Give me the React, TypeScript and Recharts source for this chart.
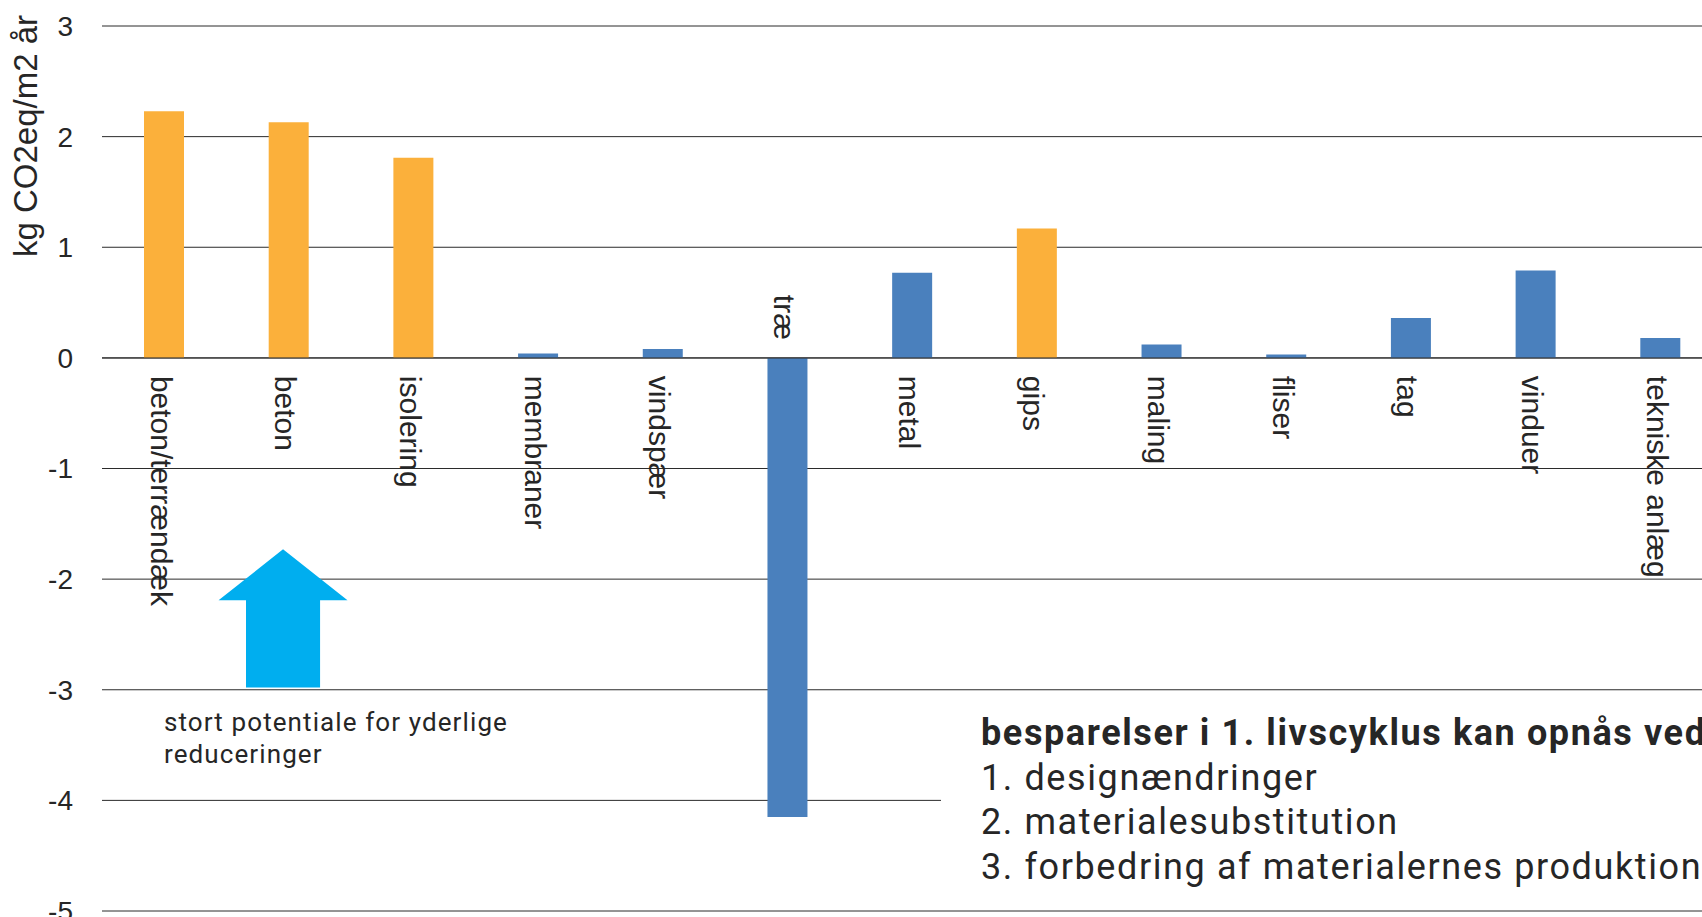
import { BarChart, Bar, XAxis, YAxis, CartesianGrid, ReferenceLine, ReferenceArea, LabelList, Cell } from "recharts";

// materialer og deres bidrag (kg CO2eq/m2 år)
const categories = [
  "beton/terrændæk",
  "beton",
  "isolering",
  "membraner",
  "vindspær",
  "træ",
  "metal",
  "gips",
  "maling",
  "fliser",
  "tag",
  "vinduer",
  "tekniske anlæg",
];
const values = [2.23, 2.13, 1.81, 0.04, 0.08, -4.15, 0.77, 1.17, 0.12, 0.03, 0.36, 0.79, 0.18];
const orangeGroup = ["beton/terrændæk", "beton", "isolering", "gips"];
const yTicks = [-5, -4, -3, -2, -1, 0, 1, 2, 3];
const yTitle = "kg CO2eq/m2 år";

// pil: fra -2.98 op til -1.73, ved "beton"
const arrowCategory = "beton";
const arrowFrom = -2.98;
const arrowTo = -1.73;
const arrowText = ["stort potentiale for yderlige", "reduceringer"];

const boxHeading = "besparelser i 1. livscyklus kan opnås ved";
const boxLines = ["1. designændringer", "2. materialesubstitution", "3. forbedring af materialernes produktion"];

const data = categories.map((name, i) => ({ name, value: values[i] }));

const ORANGE = "#FBB03B";
const BLUE = "#4A80BD";
const TEXT = "#262626";
const SANS = "'Liberation Sans', Arial, sans-serif";

const CategoryLabel = (props: any) => {
  const vb = props.viewBox || props;
  const { x, y, width, height } = vb;
  const name = props.value;
  const v = values[categories.indexOf(name)];
  const cx = x + width / 2 - 3;
  const top = Math.min(y, y + height);
  const bottom = Math.max(y, y + height);
  const neg = v < 0;
  const ty = neg ? top - 18 : bottom + 18;
  return (
    <text
      x={cx}
      y={ty}
      transform={`rotate(90 ${cx} ${ty})`}
      textAnchor={neg ? "end" : "start"}
      dominantBaseline="central"
      fontFamily={SANS}
      fontSize={30}
      fill={TEXT}
    >
      {name}
    </text>
  );
};

const AxisTitle = (props: any) => {
  const vb = props.viewBox || { x: 0, y: 0 };
  const tx = vb.x + 25;
  const ty = vb.y + 110;
  return (
    <text
      x={tx}
      y={ty}
      transform={`rotate(-90 ${tx} ${ty})`}
      textAnchor="middle"
      dominantBaseline="central"
      fontFamily={SANS}
      fontSize={33}
      fill={TEXT}
    >
      {yTitle}
    </text>
  );
};

const ArrowShape = (props: any) => {
  const { x, y, width, height } = props;
  const cx = x + width / 2 - 6;
  const wing = width * 0.517;
  const shaft = width * 0.297;
  const headH = 51;
  const pts = [
    [cx, y],
    [cx + wing, y + headH],
    [cx + shaft, y + headH],
    [cx + shaft, y + height],
    [cx - shaft, y + height],
    [cx - shaft, y + headH],
    [cx - wing, y + headH],
  ]
    .map((p) => p.join(","))
    .join(" ");
  return <polygon points={pts} fill="#00AEEF" />;
};

const App = () => {
  return (
    <div
      style={{
        position: "absolute",
        left: 0,
        top: 0,
        width: 1702,
        height: 917,
        overflow: "hidden",
        background: "#fff",
      }}
    >
      <BarChart width={1723} height={917} data={data} margin={{ top: 26, right: 0, left: 0, bottom: 6 }}>
        <CartesianGrid vertical={false} stroke="#2b2b2b" strokeWidth={1} />
        <XAxis dataKey="name" hide />
        <YAxis
          width={102}
          domain={[-5, 3]}
          ticks={yTicks}
          interval={0}
          axisLine={false}
          tickLine={false}
          tickSize={0}
          tickMargin={29}
          tick={{ fontSize: 28, fill: TEXT, fontFamily: SANS }}
          label={<AxisTitle />}
        />
        <Bar dataKey="value" barSize={40} isAnimationActive={false}>
          {data.map((d) => (
            <Cell key={d.name} fill={orangeGroup.includes(d.name) ? ORANGE : BLUE} />
          ))}
          <LabelList dataKey="name" content={<CategoryLabel />} />
        </Bar>
        <ReferenceLine y={0} stroke="#333" strokeOpacity={0.75} strokeWidth={1.5} />
        <ReferenceArea
          x1={arrowCategory}
          x2={arrowCategory}
          y1={arrowFrom}
          y2={arrowTo}
          shape={<ArrowShape />}
        />
      </BarChart>

      <div
        style={{
          position: "absolute",
          left: 164,
          top: 707,
          lineHeight: "31.5px",
          fontSize: 26,
          letterSpacing: "1.1px",
          fontFamily: "Roboto, sans-serif",
          color: TEXT,
          whiteSpace: "nowrap",
        }}
      >
        {arrowText.map((t) => (
          <div key={t}>{t}</div>
        ))}
      </div>

      <div
        style={{
          position: "absolute",
          left: 941,
          top: 692,
          width: 900,
          height: 215,
          background: "#fff",
          boxSizing: "border-box",
          paddingLeft: 40,
          paddingTop: 19,
          lineHeight: "44.5px",
          fontSize: 36,
          letterSpacing: "1.6px",
          fontFamily: "Roboto, sans-serif",
          color: TEXT,
          whiteSpace: "nowrap",
        }}
      >
        <div style={{ fontWeight: 700 }}>{boxHeading}</div>
        {boxLines.map((t) => (
          <div key={t}>{t}</div>
        ))}
      </div>
    </div>
  );
};

export default App;
